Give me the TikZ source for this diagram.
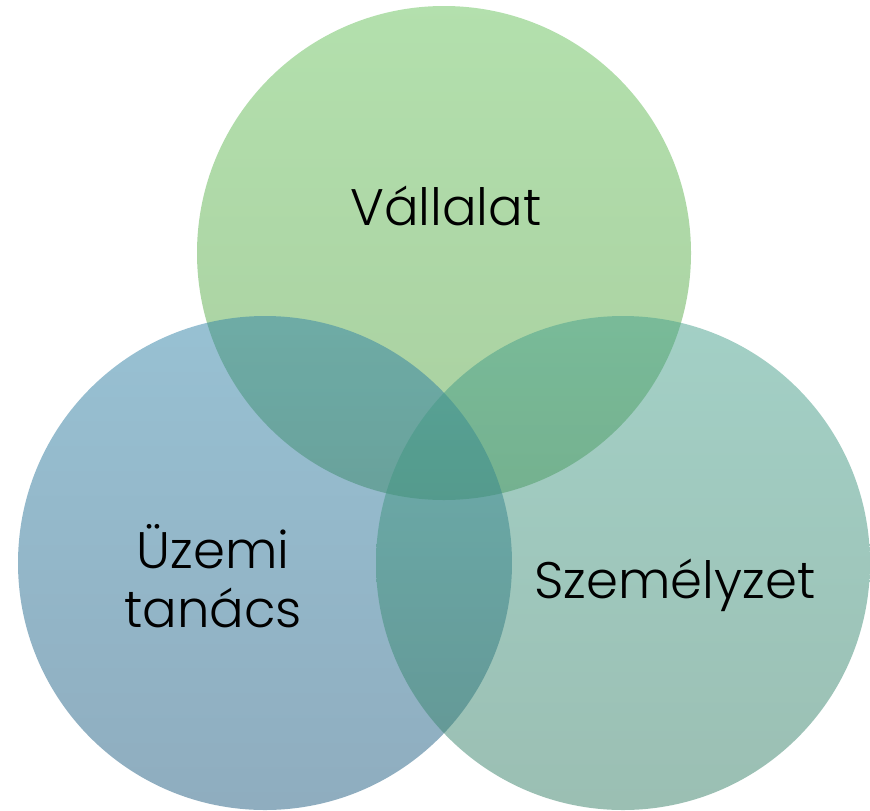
\documentclass[tikz,border=0pt]{standalone}
\usepackage{fontspec}
\setmainfont{Poppins Light}
\definecolor{gTop}{RGB}{103,193,91}
\definecolor{gBot}{RGB}{83,159,65}
\definecolor{bTop}{RGB}{49,131,167}
\definecolor{bBot}{RGB}{31,91,127}
\definecolor{tTop}{RGB}{71,161,141}
\definecolor{tBot}{RGB}{55,127,103}
\begin{document}
\begin{tikzpicture}[x=0.75pt,y=-0.75pt,
  lbl/.style={font=\fontsize{38.5}{45}\selectfont, text=black, align=center, inner sep=0pt}]
\useasboundingbox (0,0) rectangle (870,810);
\shade[top color=gTop, bottom color=gBot, opacity=0.5] (444,253) circle[radius=247];
\shade[top color=bTop, bottom color=bBot, opacity=0.5] (265,563) circle[radius=247];
\shade[top color=tTop, bottom color=tBot, opacity=0.5] (623,563) circle[radius=247];
\node[lbl, anchor=base] (v) at (446,225) {Vállalat};
\node[lbl, anchor=base] (u) at (213,568) {Üzemi};
\node[lbl, anchor=base] (t) at (213,627) {tanács};
\node[lbl, anchor=base] (s) at (675,598) {Személyzet};
\end{tikzpicture}
\end{document}
